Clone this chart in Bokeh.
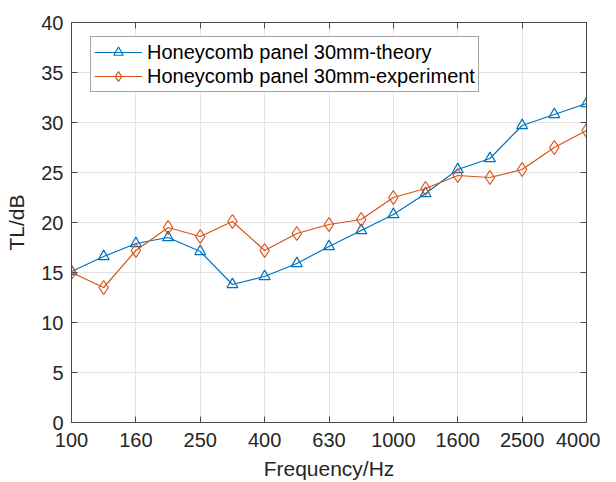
from bokeh.plotting import figure
from bokeh.models import Range1d, FixedTicker, LinearAxis, Legend, LegendItem, CustomJSTickFormatter
from bokeh.embed import file_html
from bokeh.resources import INLINE

freqs = [100, 125, 160, 200, 250, 315, 400, 500, 630, 800, 1000, 1250, 1600, 2000, 2500, 3150, 4000]
theory = [15.1, 16.6, 17.9, 18.5, 17.1, 13.8, 14.6, 15.9, 17.6, 19.2, 20.8, 22.9, 25.3, 26.4, 29.7, 30.8, 31.9]
experiment = [15.0, 13.5, 17.2, 19.5, 18.6, 20.1, 17.2, 18.9, 19.8, 20.3, 22.5, 23.4, 24.7, 24.5, 25.3, 27.5, 29.2]
tick_labels = ["100", "160", "250", "400", "630", "1000", "1600", "2500", "4000"]
y_ticks = [0, 5, 10, 15, 20, 25, 30, 35, 40]

idx = list(range(len(freqs)))
tick_pos = idx[::2]

FONT = "Liberation Sans"
BLUE = "#0072BD"
ORANGE = "#D95319"
AXC = "#4a4a4a"
TXT = "#262626"

p = figure(frame_width=515, frame_height=400, output_backend="svg", toolbar_location=None,
           x_range=Range1d(0, len(freqs) - 1), y_range=Range1d(0, 40),
           min_border_left=71, min_border_right=14, min_border_top=22, min_border_bottom=44,
           background_fill_color="white", border_fill_color="white")
p.outline_line_color = AXC
p.outline_line_width = 1

xt = FixedTicker(ticks=tick_pos)
yt = FixedTicker(ticks=y_ticks)
p.xaxis.ticker = xt
p.yaxis.ticker = yt
p.xaxis.major_label_overrides = {pos: lab for pos, lab in zip(tick_pos, tick_labels)}
p.xgrid.ticker = xt
p.ygrid.ticker = yt

for ax in (p.xaxis[0], p.yaxis[0]):
    ax.axis_line_color = AXC
    ax.major_tick_line_color = AXC
    ax.major_tick_in = 6
    ax.major_tick_out = 0
    ax.minor_tick_line_color = None
    ax.major_label_text_font = FONT
    ax.major_label_text_font_size = "20px"
    ax.major_label_text_color = TXT
    ax.axis_label_text_font = FONT
    ax.axis_label_text_font_size = "21px"
    ax.axis_label_text_font_style = "normal"
    ax.axis_label_text_color = TXT

p.xaxis.axis_label = "Frequency/Hz"
p.yaxis.axis_label = "TL/dB"
p.xaxis.major_label_standoff = 10
p.xaxis.axis_label_standoff = 7
p.yaxis.major_label_standoff = 8
p.yaxis.axis_label_standoff = 10

blank = CustomJSTickFormatter(code="return ''")
for loc, tk in (("above", xt), ("right", yt)):
    a = LinearAxis(ticker=tk, formatter=blank, major_tick_in=6, major_tick_out=0,
                   minor_tick_line_color=None, axis_line_color=AXC, major_tick_line_color=AXC,
                   major_label_standoff=0, major_label_text_font_size="1px")
    p.add_layout(a, loc)

p.grid.grid_line_color = "#e3e3e3"
p.grid.grid_line_width = 1

l1 = p.line(idx, theory, line_color=BLUE, line_width=1.2)
m1 = p.scatter(idx, theory, marker="triangle", size=11, line_color=BLUE, fill_alpha=0, line_width=1.2)
l2 = p.line(idx, experiment, line_color=ORANGE, line_width=1.2)
m2 = p.scatter(idx, experiment, marker="diamond", size=14, line_color=ORANGE, fill_alpha=0, line_width=1.2)

legend = Legend(items=[
    LegendItem(label="Honeycomb panel 30mm-theory", renderers=[l1, m1]),
    LegendItem(label="Honeycomb panel 30mm-experiment", renderers=[l2, m2]),
], location=(19, 330))
legend.label_text_font = FONT
legend.label_text_font_size = "20px"
legend.label_text_color = "black"
legend.glyph_width = 48
legend.glyph_height = 24
legend.label_height = 18
legend.label_standoff = 5
legend.spacing = 0
legend.padding = 3
legend.margin = 0
legend.border_line_color = AXC
legend.border_line_width = 1
legend.background_fill_alpha = 1
p.add_layout(legend, "center")

open("out.html", "w").write(file_html(p, INLINE))
